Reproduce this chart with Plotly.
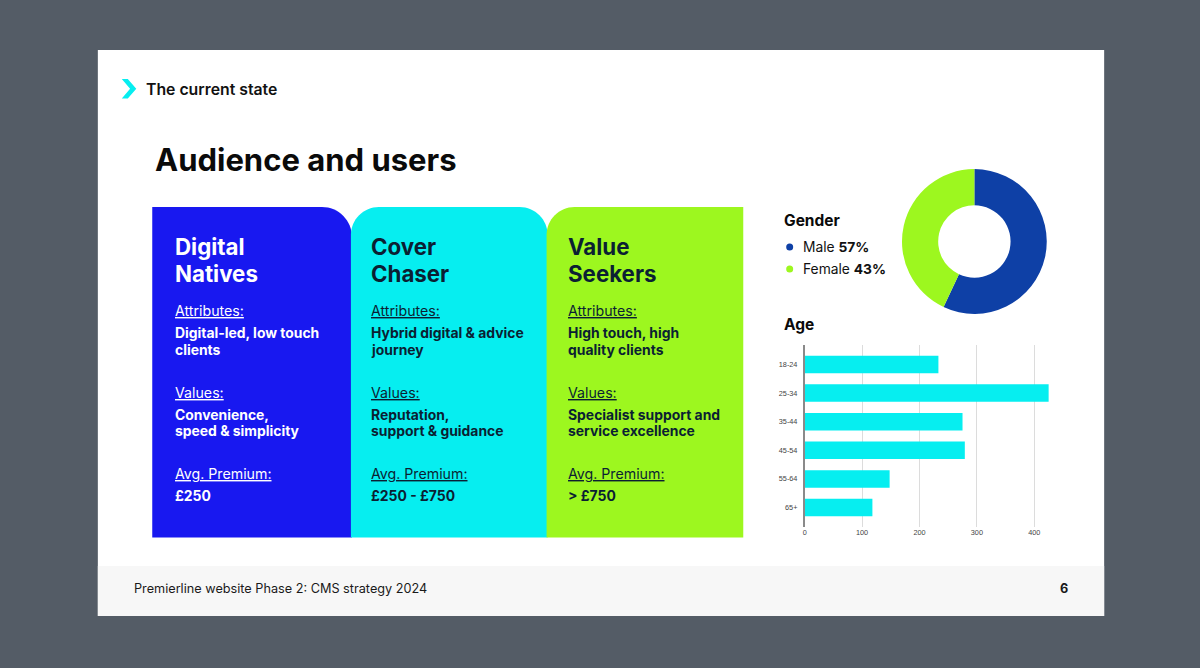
import plotly.graph_objects as go

W, H = 1200, 668

# ---------------- data ----------------
age_groups = ["18-24", "25-34", "35-44", "45-54", "55-64", "65+"]
age_counts = [233, 425, 275, 279, 148, 118]
age_ticks = [0, 100, 200, 300, 400]

gender_labels = ["Male", "Female"]
gender_values = [57, 43]

card_titles = [["Digital", "Natives"], ["Cover", "Chaser"], ["Value", "Seekers"]]
card_attributes = [["Digital-led, low touch", "clients"],
                   ["Hybrid digital & advice", "journey"],
                   ["High touch, high", "quality clients"]]
card_values = [["Convenience,", "speed & simplicity"],
               ["Reputation,", "support & guidance"],
               ["Specialist support and", "service excellence"]]
card_premiums = ["£250", "£250 - £750", "> £750"]

# ---------------- styles ----------------
BG = "#545c66"
BLUE = "#1818f0"
CYAN = "#06eef0"
LIME = "#9df71f"
NAVY = "#0b1f33"
MALE_C = "#0e40a6"
FONT = "Inter"


def X(px):
    return px / W


def Y(py):
    return 1 - py / H


def rr_path(x0, y0, x1, y1, rl, rr):
    k = 0.5523
    p = f"M {X(x0)},{Y(y1)} L {X(x0)},{Y(y0 + rl)} "
    if rl > 0:
        p += (f"C {X(x0)},{Y(y0 + rl - k * rl)} {X(x0 + rl - k * rl)},{Y(y0)} "
              f"{X(x0 + rl)},{Y(y0)} ")
    p += f"L {X(x1 - rr)},{Y(y0)} "
    if rr > 0:
        p += (f"C {X(x1 - rr + k * rr)},{Y(y0)} {X(x1)},{Y(y0 + rr - k * rr)} "
              f"{X(x1)},{Y(y0 + rr)} ")
    p += f"L {X(x1)},{Y(y1)} Z"
    return p


fig = go.Figure()

shapes = []
annotations = []

# slide + footer
shapes.append(dict(type="rect", xref="paper", yref="paper", x0=X(96), x1=X(1104),
                   y0=Y(616), y1=Y(50), fillcolor="white", line=dict(width=0), layer="below"))
shapes.append(dict(type="rect", xref="paper", yref="paper", x0=X(96), x1=X(1104),
                   y0=Y(616), y1=Y(566), fillcolor="#f7f7f7", line=dict(width=0), layer="below"))

# chevron
chev = (f"M {X(120)},{Y(79)} L {X(126)},{Y(79)} L {X(134.5)},{Y(88.8)} "
        f"L {X(126)},{Y(98.5)} L {X(120)},{Y(98.5)} L {X(128.3)},{Y(88.8)} Z")
shapes.append(dict(type="path", xref="paper", yref="paper", path=chev,
                   fillcolor=CYAN, line=dict(width=0), layer="below"))

# cards
card_geo = [(150.5, 350.5, 0, 30, BLUE, "white"),
            (349.5, 546.5, 28, 28, CYAN, NAVY),
            (545.5, 742.5, 28, 0, LIME, NAVY)]
for (x0, x1, rl, rr, col, _) in card_geo:
    shapes.append(dict(type="path", xref="paper", yref="paper",
                       path=rr_path(x0, 207, x1, 537.5, rl, rr),
                       fillcolor=col, line=dict(width=0), layer="below"))


def txt(x, y, text, size, color="#111111", bold=False, family=FONT, anchor="left"):
    annotations.append(dict(xref="paper", yref="paper", x=X(x), y=Y(y),
                            xanchor=anchor, yanchor="middle", showarrow=False,
                            text=(f"<b>{text}</b>" if bold else text),
                            font=dict(family=family, size=size, color=color)))


# header texts
txt(142, 89.5, "<span style='font-weight:600'>The current state</span>", 15.8, "#111111")
txt(151, 159, "Audience and users", 31, "#0a0a0a", bold=True)

# card texts
card_x = [171, 368, 565]
for i in range(3):
    cx = card_x[i]
    tc = card_geo[i][5]
    txt(cx, 246.5, card_titles[i][0], 22.3, tc, bold=True)
    txt(cx, 273.5, card_titles[i][1], 22.3, tc, bold=True)
    txt(cx, 311, "<u>Attributes:</u>", 14.2, tc)
    txt(cx, 333, card_attributes[i][0], 13.9, tc, bold=True)
    txt(cx, 349.5, card_attributes[i][1], 13.9, tc, bold=True)
    txt(cx, 393, "<u>Values:</u>", 14.2, tc)
    txt(cx, 414.5, card_values[i][0], 13.9, tc, bold=True)
    txt(cx, 431, card_values[i][1], 13.9, tc, bold=True)
    txt(cx, 474, "<u>Avg. Premium:</u>", 14.2, tc)
    txt(cx, 496, card_premiums[i], 13.9, tc, bold=True)

# gender legend
txt(781, 220, "Gender", 15.5, "#0a0a0a", bold=True)
legend_cols = [MALE_C, LIME]
for j, (lab, val) in enumerate(zip(gender_labels, gender_values)):
    yy = 247 + 22 * j
    shapes.append(dict(type="circle", xref="paper", yref="paper",
                       x0=X(785.5), x1=X(792.5), y0=Y(yy + 3.5), y1=Y(yy - 3.5),
                       fillcolor=legend_cols[j], line=dict(width=0)))
    txt(800, yy, f"{lab} <b>{val}%</b>", 13.8, "#111111")

txt(781, 325, "Age", 15.5, "#0a0a0a", bold=True)

# footer
txt(130, 588, "Premierline website Phase 2: CMS strategy 2024", 12.7, "#1a1a1a")
txt(1070, 588, "6", 12.7, "#1a1a1a", bold=True, anchor="right")

# donut
cxp, cyp, rad = 974, 241.5, 72.5
fig.add_trace(go.Pie(labels=gender_labels, values=gender_values, hole=0.5,
                     sort=False, direction="clockwise", rotation=0,
                     marker=dict(colors=[MALE_C, LIME], line=dict(width=0)),
                     textinfo="none", showlegend=False, hoverinfo="label+percent",
                     domain=dict(x=[X(cxp - rad), X(cxp + rad)],
                                 y=[Y(cyp + rad), Y(cyp - rad)])))

# age bar chart
px_per_unit = 0.575
x_left = 804
x_max = 440
fig.add_trace(go.Bar(y=age_groups, x=age_counts, orientation="h",
                     marker=dict(color=CYAN, line=dict(width=0)),
                     showlegend=False, xaxis="x", yaxis="y"))

fig.update_layout(
    width=W, height=H,
    margin=dict(l=0, r=0, t=0, b=0),
    paper_bgcolor=BG,
    plot_bgcolor="rgba(0,0,0,0)",
    bargap=0.39,
    shapes=shapes,
    annotations=annotations,
    xaxis=dict(domain=[X(x_left), X(x_left + x_max * px_per_unit)],
               range=[0, x_max], tickvals=age_ticks, showgrid=True,
               gridcolor="#dcdcdc", gridwidth=1, zeroline=False, showline=False,
               tickfont=dict(family="Liberation Sans", size=7.3, color="#444"),
               ticks="", fixedrange=True),
    yaxis=dict(domain=[Y(527), Y(345)], type="category",
               categoryorder="array", categoryarray=age_groups,
               range=[5.68, -0.68], showline=True, linecolor="#8a8a8a",
               linewidth=1.5, showgrid=False, zeroline=False, ticks="",
               tickfont=dict(family="Liberation Sans", size=7.3, color="#444"),
               ticklabelstandoff=4, fixedrange=True),
    font=dict(family=FONT),
)

fig.write_html("out.html",
               config={"displayModeBar": False},
               post_script="document.body.style.margin='0';document.body.style.overflow='hidden';")
